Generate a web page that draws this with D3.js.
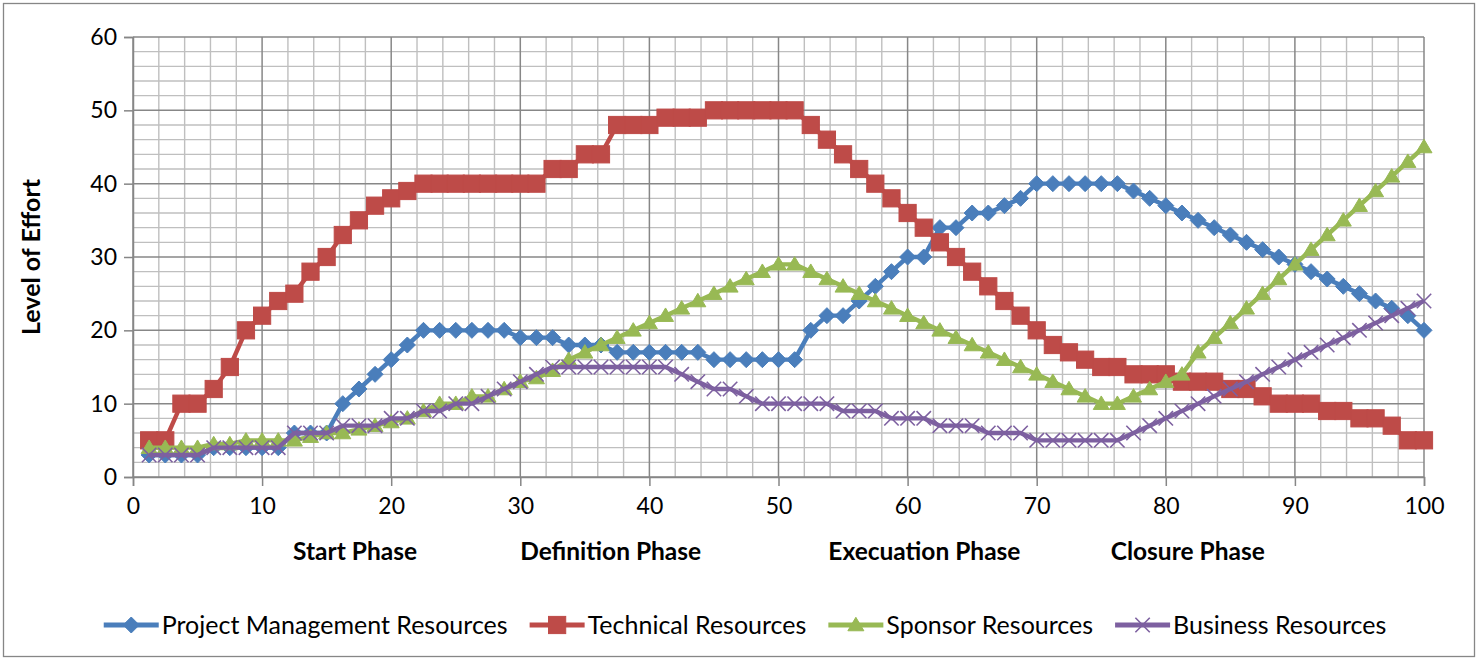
<!DOCTYPE html>
<html>
<head>
<meta charset="utf-8">
<script src="https://cdn.jsdelivr.net/npm/d3@7"></script>
<style>
  html, body { margin: 0; padding: 0; background: #ffffff; }
  svg { display: block; }
  text { font-family: Lato, "Open Sans", "Liberation Sans", sans-serif; fill: #000; }
</style>
</head>
<body>
<svg id="chart" width="1482" height="661"></svg>
<script>
// ---------------- data ----------------
const xValues = [1.25,2.5,3.75,5,6.25,7.5,8.75,10,11.25,12.5,13.75,15,16.25,17.5,18.75,20,
  21.25,22.5,23.75,25,26.25,27.5,28.75,30,31.25,32.5,33.75,35,36.25,37.5,38.75,40,
  41.25,42.5,43.75,45,46.25,47.5,48.75,50,51.25,52.5,53.75,55,56.25,57.5,58.75,60,
  61.25,62.5,63.75,65,66.25,67.5,68.75,70,71.25,72.5,73.75,75,76.25,77.5,78.75,80,
  81.25,82.5,83.75,85,86.25,87.5,88.75,90,91.25,92.5,93.75,95,96.25,97.5,98.75,100];

const projectManagement = [3,3,3,3, 4,4,4,4,4, 6,6,6, 10,12,14,16,18,20, 20,20,20,20,20,
  19,19,19, 18,18,18, 17,17,17,17,17,17, 16,16,16,16,16,16,
  20,22,22,24,26,28,30,30, 34,34,36,36,37,38, 40,40,40,40,40,40,
  39,38,37,36,35,34,33,32,31,30,29,28,27,26,25,24,23,22,20];

const technical = [5,5, 10,10, 12,15,20,22,24,25,28,30,33,35,37,38,39,
  40,40,40,40,40,40,40,40, 42,42, 44,44, 48,48,48, 49,49,49, 50,50,50,50,50,50,
  48,46,44,42,40,38,36,34,32,30,28,26, 24,22,20,18,17,16,15,15,
  14,14,14, 13,13,13, 12,12, 11, 10,10,10, 9,9, 8,8, 7, 5,5];

const sponsor = [4,4,4,4, 4.5,4.5,5,5,5, 5,5.5,6, 6,6.5,7,7.5,8,9,
  10,10,11,11,12,13,13.5,14.5,16,17,18,
  19,20,21,22,23,24,25,26,27,28,29,
  29,28,27,26,25,24,23,22,21,20,19,18,17,
  16,15,14,13,12,11,10,10, 11,12,13,14,17,
  19,21,23,25,27,29,31,33,35,37,39,41,43,45];

const business = [3,3,3,3, 4,4,4,4,4, 6,6,6,
  7,7,7,8,8,9,9,10,10,11,12,13,14,15,
  15,15,15,15,15,15,15, 14,13,12,12,11, 10,10,10,10,10,
  9,9,9, 8,8,8, 7,7,7, 6,6,6, 5,5,5,5,5,5,
  6,7,8,9,10,11,12,13,14,15,16,17,18,19,20,21,22,23,24];

const seriesNames = ["Project Management Resources","Technical Resources","Sponsor Resources","Business Resources"];
const seriesColors = ["#4a7ebb","#be4b48","#98b954","#7d60a0"];
const seriesMarkers = ["diamond","square","triangle","x"];
const xTicks = [0,10,20,30,40,50,60,70,80,90,100];
const yTicks = [0,10,20,30,40,50,60];
const phaseLabels = ["Start Phase","Definition Phase","Execuation Phase","Closure Phase"];
const yTitle = "Level of Effort";

// ---------------- layout ----------------
const svg = d3.select("#chart");
const plot = {left: 133, right: 1424, top: 37, bottom: 477};
const x = d3.scaleLinear().domain([0,100]).range([plot.left, plot.right]);
const y = d3.scaleLinear().domain([0,60]).range([plot.bottom, plot.top]);

// chart border
svg.append("rect").attr("x",3.5).attr("y",3.5).attr("width",1471).attr("height",653)
  .attr("fill","#fff").attr("stroke","#868686").attr("stroke-width",1.3);

// minor grid
const g = svg.append("g");
const minorX = d3.range(0,101,2).filter(v => v % 10 !== 0);
const minorY = d3.range(0,61,2).filter(v => v % 10 !== 0);
g.selectAll(".mx").data(minorX).join("line")
  .attr("x1",d=>x(d)).attr("x2",d=>x(d)).attr("y1",plot.top).attr("y2",plot.bottom)
  .attr("stroke","#bfbfbf").attr("stroke-width",1.4);
g.selectAll(".my").data(minorY).join("line")
  .attr("y1",d=>y(d)).attr("y2",d=>y(d)).attr("x1",plot.left).attr("x2",plot.right)
  .attr("stroke","#bfbfbf").attr("stroke-width",1.4);
// major grid
g.selectAll(".Mx").data(xTicks).join("line")
  .attr("x1",d=>x(d)).attr("x2",d=>x(d)).attr("y1",plot.top).attr("y2",plot.bottom)
  .attr("stroke","#878787").attr("stroke-width",1.5);
g.selectAll(".My").data(yTicks).join("line")
  .attr("y1",d=>y(d)).attr("y2",d=>y(d)).attr("x1",plot.left).attr("x2",plot.right)
  .attr("stroke","#878787").attr("stroke-width",1.5);

// axes
const yAxis = svg.append("g").attr("transform",`translate(${plot.left},0)`)
  .call(d3.axisLeft(y).tickValues(yTicks).tickSize(9).tickPadding(7).tickFormat(d3.format("d")));
const xAxis = svg.append("g").attr("transform",`translate(0,${plot.bottom})`)
  .call(d3.axisBottom(x).tickValues(xTicks).tickSize(9).tickPadding(16).tickFormat(d3.format("d")));
[yAxis, xAxis].forEach(a => {
  a.selectAll("path,line").attr("stroke","#868686").attr("stroke-width",1.5);
  a.selectAll("text").style("font-size","23px").attr("fill","#000");
});
xAxis.selectAll("text").attr("dy","0.5em");

// axis titles
svg.append("text").attr("transform",`translate(40,${(plot.top+plot.bottom)/2}) rotate(-90)`)
  .attr("text-anchor","middle").style("font-size","25px").style("font-weight","bold").text(yTitle);
const phaseFrac = [0.172, 0.37, 0.613, 0.817];
phaseLabels.forEach((p,i) => {
  svg.append("text").attr("x", plot.left + phaseFrac[i]*(plot.right-plot.left)).attr("y",560)
    .attr("text-anchor","middle").style("font-size","24.5px").style("font-weight","bold").text(p);
});

// markers
function drawMarker(sel, type, color, cx, cy, scale=1) {
  if (type === "diamond") {
    const r = 8*scale;
    sel.append("path").attr("d",`M${cx},${cy-r}L${cx+r},${cy}L${cx},${cy+r}L${cx-r},${cy}Z`)
      .attr("fill",color).attr("stroke",color).attr("stroke-width",1);
  } else if (type === "square") {
    const s = 8.6*scale;
    sel.append("rect").attr("x",cx-s).attr("y",cy-s).attr("width",2*s).attr("height",2*s)
      .attr("fill",color).attr("stroke",color).attr("stroke-width",1);
  } else if (type === "triangle") {
    const w = 8*scale, h = 7.7*scale;
    sel.append("path").attr("d",`M${cx},${cy-h}L${cx+w},${cy+h*0.75}L${cx-w},${cy+h*0.75}Z`)
      .attr("fill",color).attr("stroke",color).attr("stroke-width",1);
  } else {
    const r = 7.2*scale;
    sel.append("path").attr("d",`M${cx-r},${cy-r}L${cx+r},${cy+r}M${cx-r},${cy+r}L${cx+r},${cy-r}`)
      .attr("fill","none").attr("stroke",color).attr("stroke-width",1.6);
  }
}

const allSeries = [projectManagement, technical, sponsor, business];
const line = d3.line().x((d,i)=>x(xValues[i])).y(d=>y(d));
allSeries.forEach((vals, si) => {
  const sg = svg.append("g");
  sg.append("path").datum(vals).attr("d",line).attr("fill","none")
    .attr("stroke",seriesColors[si]).attr("stroke-width",4.4).attr("stroke-linejoin","round");
  vals.forEach((v,i) => drawMarker(sg, seriesMarkers[si], seriesColors[si], x(xValues[i]), y(v)));
});

// legend
const leg = svg.append("g");
const items = [];
let cursor = 0;
seriesNames.forEach((n,i) => {
  const it = leg.append("g");
  it.append("line").attr("x1",0).attr("x2",55).attr("y1",0).attr("y2",0)
    .attr("stroke",seriesColors[i]).attr("stroke-width",5);
  drawMarker(it, seriesMarkers[i], seriesColors[i], 27.5, 0);
  const t = it.append("text").attr("x",58).attr("y",0).attr("dy","0.35em")
    .style("font-size","25px").text(n);
  const w = 58 + t.node().getComputedTextLength();
  items.push({it, w});
});
const gap = 22;
const totalW = d3.sum(items, d=>d.w) + gap*(items.length-1);
cursor = 745 - totalW/2;
items.forEach(d => { d.it.attr("transform",`translate(${cursor},625)`); cursor += d.w + gap; });
</script>
</body>
</html>
